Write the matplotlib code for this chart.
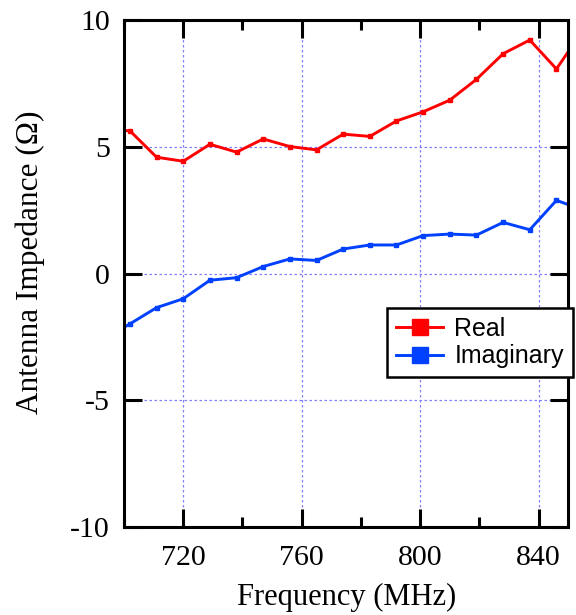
"""Antenna impedance (real / imaginary) versus frequency."""
import matplotlib
matplotlib.use("Agg")
import matplotlib.pyplot as plt
from matplotlib.ticker import MultipleLocator

plt.rcParams["axes.unicode_minus"] = False

freq_mhz = [693, 702, 711, 720, 729, 738, 747, 756, 765, 774, 783,
            792, 801, 810, 819, 828, 837, 846, 855]
real_ohm = [5.70, 5.63, 4.59, 4.43, 5.10, 4.79, 5.31, 5.01, 4.88, 5.50,
            5.41, 6.02, 6.38, 6.84, 7.66, 8.67, 9.21, 8.07, 9.60]
imag_ohm = [-2.60, -1.98, -1.34, -0.99, -0.26, -0.16, 0.28, 0.58, 0.52,
            0.97, 1.13, 1.13, 1.50, 1.56, 1.52, 2.02, 1.73, 2.89, 2.51]

SERIF = "Liberation Serif"
SANS = "Liberation Sans"

fig = plt.figure(figsize=(5.76, 6.15), dpi=100)
ax = fig.add_axes([0.2153, 0.1426, 0.7713, 0.8249])

ax.plot(freq_mhz, real_ohm, color="#ff0000", lw=2.1, marker="s", ms=3.2,
        label="Real")
ax.plot(freq_mhz, imag_ohm, color="#0040ff", lw=2.1, marker="s", ms=3.2,
        label="Imaginary")

ax.set_xlim(700, 850)
ax.set_ylim(-10, 10)
ax.xaxis.set_major_locator(MultipleLocator(40))
ax.xaxis.set_minor_locator(MultipleLocator(20))
ax.yaxis.set_major_locator(MultipleLocator(5))

ax.grid(True, which="major", color="#8080ff", lw=0.9, linestyle=(0, (2, 2)))
for s in ax.spines.values():
    s.set_linewidth(2.2)
ax.tick_params(which="major", direction="in", length=13, width=2.2,
               top=True, right=True, pad=10)
ax.tick_params(axis="x", which="major", pad=13)
ax.tick_params(which="minor", direction="in", length=7, width=2.2,
               top=True, right=True)
for lab in ax.get_xticklabels() + ax.get_yticklabels():
    lab.set_fontfamily(SERIF)
    lab.set_fontsize(21.5)

ax.set_xlabel("Frequency (MHz)", fontfamily=SERIF, fontsize=22, labelpad=8)
ax.set_ylabel("Antenna Impedance (Ω)", fontfamily=SERIF, fontsize=22.5)
ax.yaxis.set_label_coords(-0.178, 0.523)

leg = ax.legend(loc="upper left", bbox_to_anchor=(387 / 576, 1 - 308 / 615),
                bbox_transform=fig.transFigure, fancybox=False,
                framealpha=1, edgecolor="black", markerscale=3.6,
                handlelength=1.9, handletextpad=0.45, borderpad=0.35,
                borderaxespad=0, labelspacing=0.15,
                prop={"family": SANS, "size": 18})
leg.get_frame().set_linewidth(1.8)

fig.savefig("out.png", dpi=100)
